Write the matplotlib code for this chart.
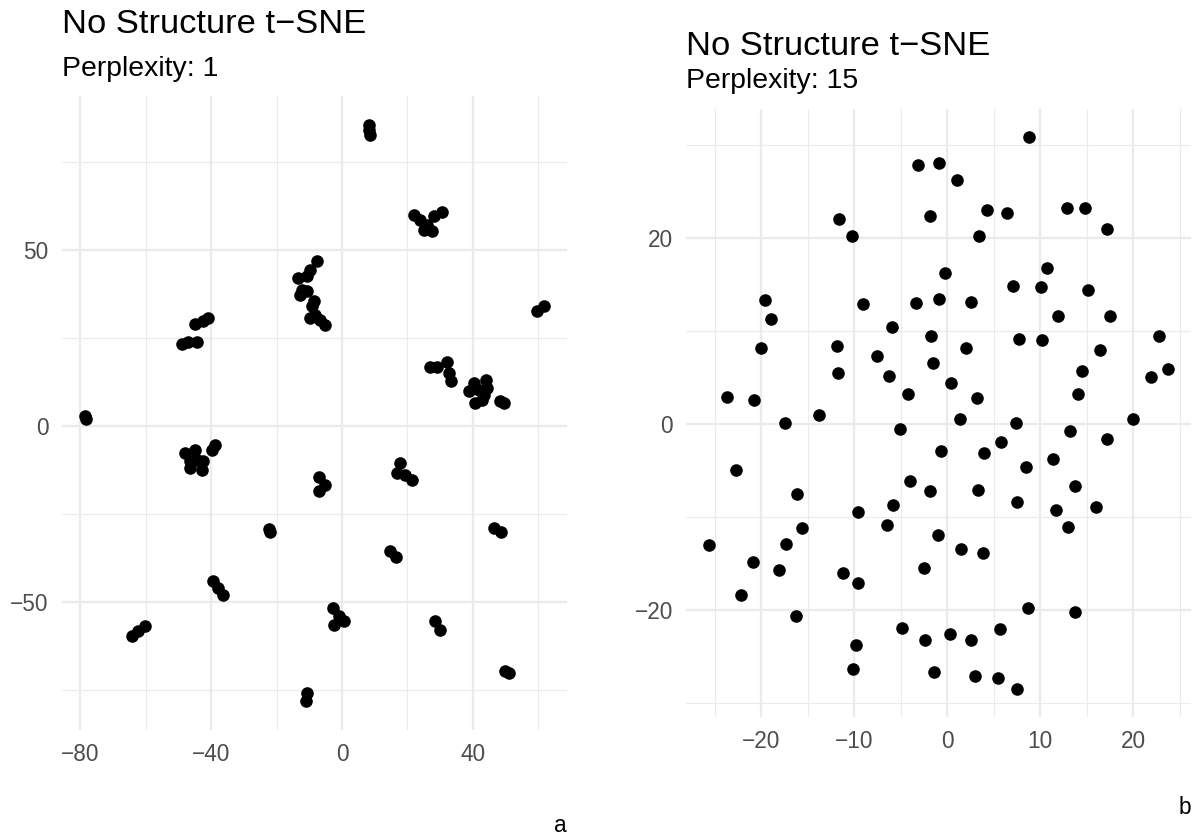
import numpy as np
import matplotlib
matplotlib.use("Agg")
import matplotlib.pyplot as plt
from matplotlib.ticker import FixedLocator, FuncFormatter

plt.rcParams['font.family'] = ['Liberation Sans', 'DejaVu Sans']

# t-SNE embedding, perplexity 1 (tight little clumps)
p1_x = [-49.0, -47.0, -44.2, -44.9, -40.9, -42.4,
        -7.7, -9.7, -10.7, -13.3, -12.3, -12.8, -10.7, -8.7, -9.2, -9.7, -8.2, -5.1, -6.6,
        8.2, 8.4, 8.7,
        21.9, 24.0, 25.0, 27.6, 28.1, 30.6, 26.0,
        59.7, 61.8,
        27.0, 29.1, 32.2, 32.7, 33.2,
        40.3, 43.9, 38.8, 41.8, 44.4, 43.4, 40.8, 42.9, 48.2, 49.7,
        -78.6, -78.2,
        -48.0, -44.9, -46.5, -46.5, -42.9, -42.4, -44.4, -39.8, -38.8,
        -6.9, -5.1, -6.9,
        -22.3, -22.0,
        -39.5, -37.8, -36.3,
        -64.3, -62.3, -60.2,
        -10.7, -10.9,
        17.9, 16.8, 19.4, 21.4,
        14.8, 16.6,
        46.4, 48.7,
        -2.6, 0.5, -2.4, -1.0,
        28.6, 30.1,
        49.8, 51.0]
p1_y = [23.3, 23.9, 23.9, 28.9, 30.6, 29.8,
        46.7, 44.3, 42.4, 41.9, 38.6, 37.2, 38.2, 35.3, 33.9, 30.6, 31.5, 28.7, 29.9,
        85.5, 84.0, 82.7,
        60.0, 58.5, 55.7, 55.2, 59.5, 60.7, 57.1,
        32.5, 33.9,
        16.8, 16.6, 18.1, 14.9, 12.6,
        12.1, 13.1, 9.9, 10.2, 10.7, 8.8, 6.4, 7.4, 7.0, 6.3,
        2.8, 1.9,
        -7.8, -6.8, -10.1, -12.0, -12.5, -10.1, -9.7, -6.8, -5.4,
        -14.7, -16.8, -18.7,
        -29.3, -30.3,
        -44.2, -46.1, -48.0,
        -59.9, -58.4, -57.0,
        -76.0, -78.3,
        -10.6, -13.5, -13.9, -15.5,
        -35.7, -37.4,
        -29.1, -30.2,
        -51.8, -55.4, -56.7, -54.2,
        -55.4, -58.2,
        -69.7, -70.2]

# t-SNE embedding, perplexity 15 (evenly spread cloud)
p15_x = [-3.15, -0.86, -1.86, -11.68, -10.25, 8.82, 1.08, 4.3, 6.38, 12.84,
         14.84, 17.14, 3.44, -0.25, 10.69, 7.1, 10.1, 15.13, -3.37, -0.86,
         2.55, 11.9, 17.5, -1.72, 7.67, 10.2, 22.76, 2.0, 16.4, -1.57,
         14.52, 21.94, 23.73, 0.4, 14.05, 3.16, 1.37, 7.39, 19.93, -19.6,
         -18.99, -9.1, -5.95, -20.03, -11.83, -7.53, -11.72, -6.24, -4.26, -23.72,
         -20.75, -17.42, -13.8, -5.09, -0.71, -22.75, -4.01, -1.9, -16.19, -5.84,
         -9.64, -6.52, -15.62, -0.97, -25.62, -17.34, -20.93, -18.1, -11.25, -9.64,
         -2.5, -22.15, -16.27, -4.87, -2.4, -9.78, -10.17, -1.4, 13.16, 17.2,
         5.74, 3.98, 11.4, 8.43, 13.76, 3.34, 7.46, 11.69, 16.02, 13.01,
         1.44, 3.84, 8.71, 13.76, 5.63, 0.29, 2.55, 2.98, 5.48, 7.53]
p15_y = [27.85, 28.1, 22.4, 22.04, 20.25, 30.9, 26.2, 23.04, 22.7, 23.26,
         23.2, 21.0, 20.2, 16.2, 16.73, 14.87, 14.73, 14.4, 13.0, 13.44,
         13.1, 11.64, 11.57, 9.42, 9.1, 8.99, 9.46, 8.13, 7.99, 6.52,
         5.73, 5.05, 5.91, 4.4, 3.26, 2.76, 0.5, 0.1, 0.53, 13.33,
         11.25, 12.86, 10.39, 8.13, 8.42, 7.27, 5.44, 5.12, 3.22, 2.94,
         2.58, 0.14, 0.93, -0.61, -2.87, -5.02, -6.17, -7.24, -7.53, -8.75,
         -9.47, -10.86, -11.26, -12.0, -13.09, -12.98, -14.91, -15.74, -16.02, -17.14,
         -15.48, -18.39, -20.72, -22.01, -23.3, -23.77, -26.35, -26.74, -0.72, -1.58,
         -1.94, -3.16, -3.76, -4.66, -6.71, -7.14, -8.36, -9.32, -8.96, -11.15,
         -13.44, -13.91, -19.78, -20.29, -22.05, -22.58, -23.3, -27.17, -27.31, -28.57]

p1_xticks, p1_xminor = [-80, -40, 0, 40], [-60, -20, 20, 60]
p1_yticks, p1_yminor = [-50, 0, 50], [-75, -25, 25, 75]
p15_xticks, p15_xminor = [-20, -10, 0, 10, 20], [-25, -15, -5, 5, 15, 25]
p15_yticks, p15_yminor = [-20, 0, 20], [-30, -10, 10, 30]

W, H = 1195, 839
fig = plt.figure(figsize=(W / 100, H / 100), dpi=100)
fig.patch.set_facecolor('white')

GRID = '#EBEBEB'
TICK_COL = '#4D4D4D'


def minus(v, _pos=None):
    s = f"{v:g}"
    return s.replace('-', '\u2212')


def panel(rect, xs, ys, xt, xm, yt, ym):
    ax = fig.add_axes(rect)
    xs, ys = np.asarray(xs), np.asarray(ys)
    xr = xs.max() - xs.min()
    yr = ys.max() - ys.min()
    ax.set_xlim(xs.min() - 0.05 * xr, xs.max() + 0.05 * xr)
    ax.set_ylim(ys.min() - 0.05 * yr, ys.max() + 0.05 * yr)
    ax.xaxis.set_major_locator(FixedLocator(xt))
    ax.xaxis.set_minor_locator(FixedLocator(xm))
    ax.yaxis.set_major_locator(FixedLocator(yt))
    ax.yaxis.set_minor_locator(FixedLocator(ym))
    ax.xaxis.set_major_formatter(FuncFormatter(minus))
    ax.yaxis.set_major_formatter(FuncFormatter(minus))
    ax.grid(True, which='major', color=GRID, lw=1.7)
    ax.grid(True, which='minor', color=GRID, lw=0.85)
    ax.set_axisbelow(True)
    for sp in ax.spines.values():
        sp.set_visible(False)
    ax.tick_params(which='both', length=0, labelsize=16.3, labelcolor=TICK_COL, pad=9.5)
    ax.scatter(xs, ys, s=82, c='black', linewidths=0, zorder=3)
    return ax


def px_rect(x0, y0, x1, y1):
    return [x0 / W, 1 - y1 / H, (x1 - x0) / W, (y1 - y0) / H]


ax1 = panel(px_rect(62, 96, 567, 730), p1_x, p1_y,
            p1_xticks, p1_xminor, p1_yticks, p1_yminor)
ax2 = panel(px_rect(686, 109, 1191, 717), p15_x, p15_y,
            p15_xticks, p15_xminor, p15_yticks, p15_yminor)


def ftext(x, y, s, size, color='black', ha='left'):
    fig.text(x / W, 1 - y / H, s, fontsize=size, color=color, ha=ha, va='baseline')


ftext(62, 33, 'No Structure t\u2212SNE', 24.8)
ftext(62, 76, 'Perplexity: 1', 20.4)
ftext(686, 55, 'No Structure t\u2212SNE', 24.8)
ftext(686, 88, 'Perplexity: 15', 20.4)
ftext(567, 832, 'a', 16.3, ha='right')
ftext(1191, 814, 'b', 16.3, ha='right')

fig.savefig('out.png', dpi=100, facecolor='white')
